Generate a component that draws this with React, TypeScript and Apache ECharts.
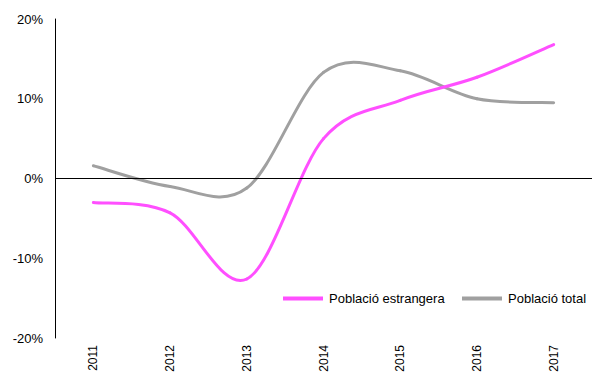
import React, { useEffect, useRef } from "react";
import * as echarts from "echarts";

const years = ["2011", "2012", "2013", "2014", "2015", "2016", "2017"];
const poblacioEstrangera = [-3.0, -4.3, -12.6, 5.0, 9.8, 12.7, 16.8];
const poblacioTotal = [1.6, -1.0, -1.2, 13.3, 13.5, 10.0, 9.5];
const seriesNames = ["Població estrangera", "Població total"];
const colors = ["#ff4fff", "#a0a0a0"];

// Excel-like smoothed line (Catmull-Rom → cubic Bézier) through the axis scales
function smoothSeries(name: string, values: number[], color: string, z: number) {
  return {
    name,
    type: "custom",
    data: values.map((v, i) => [i, v]),
    z,
    itemStyle: { color },
    renderItem: (params: any, api: any) => {
      const i = params.dataIndex;
      if (i >= values.length - 1) return { type: "group", children: [] };
      const idx = (k: number) => Math.max(0, Math.min(values.length - 1, k));
      const p0 = api.coord([idx(i - 1), values[idx(i - 1)]]);
      const p1 = api.coord([i, values[i]]);
      const p2 = api.coord([i + 1, values[i + 1]]);
      const p3 = api.coord([idx(i + 2), values[idx(i + 2)]]);
      return {
        type: "bezierCurve",
        shape: {
          x1: p1[0],
          y1: p1[1],
          x2: p2[0],
          y2: p2[1],
          cpx1: p1[0] + (p2[0] - p0[0]) / 6,
          cpy1: p1[1] + (p2[1] - p0[1]) / 6,
          cpx2: p2[0] - (p3[0] - p1[0]) / 6,
          cpy2: p2[1] - (p3[1] - p1[1]) / 6,
        },
        style: { stroke: color, lineWidth: 3, fill: "none", lineCap: "round" },
      };
    },
  };
}

export default function App() {
  const ref = useRef<HTMLDivElement>(null);
  useEffect(() => {
    if (!ref.current) return;
    const chart = echarts.init(ref.current, null, { renderer: "svg" });
    const font = "Liberation Sans, Arial, sans-serif";
    const legendBase = {
      top: 287,
      itemWidth: 40,
      itemHeight: 4,
      itemGap: 0,
      icon: "rect",
      textStyle: { fontFamily: font, fontSize: 13, color: "#000", padding: [0, 0, 0, 1] },
    };
    chart.setOption({
      animation: false,
      grid: { left: 55, right: -2, top: 19, bottom: 38, containLabel: false },
      legend: [
        { ...legendBase, left: 278, data: [seriesNames[0]] },
        { ...legendBase, left: 457, data: [seriesNames[1]] },
      ],
      xAxis: {
        type: "category",
        data: years,
        boundaryGap: true,
        axisLine: { show: false },
        axisTick: { show: false },
        axisLabel: {
          rotate: 90,
          margin: 7,
          fontFamily: font,
          fontSize: 12,
          color: "#000",
        },
      },
      yAxis: {
        type: "value",
        min: -20,
        max: 20,
        interval: 10,
        splitLine: { show: false },
        axisTick: { show: false },
        axisLine: { show: true, lineStyle: { color: "#000", width: 1 } },
        axisLabel: {
          formatter: "{value}%",
          margin: 12,
          fontFamily: font,
          fontSize: 13,
          color: "#000",
        },
      },
      series: [
        {
          name: "zero",
          type: "line",
          data: poblacioEstrangera,
          symbol: "none",
          lineStyle: { opacity: 0 },
          silent: true,
          z: 1,
          markLine: {
            silent: true,
            symbol: ["none", "none"],
            label: { show: false },
            lineStyle: { color: "#000", width: 1, type: "solid" },
            data: [{ yAxis: 0 }],
          },
        },
        smoothSeries(seriesNames[0], poblacioEstrangera, colors[0], 3),
        smoothSeries(seriesNames[1], poblacioTotal, colors[1], 2),
      ],
    });
    return () => chart.dispose();
  }, []);
  return (
    <div
      ref={ref}
      style={{ position: "absolute", left: 0, top: 0, width: 592, height: 376, background: "#fff" }}
    />
  );
}
